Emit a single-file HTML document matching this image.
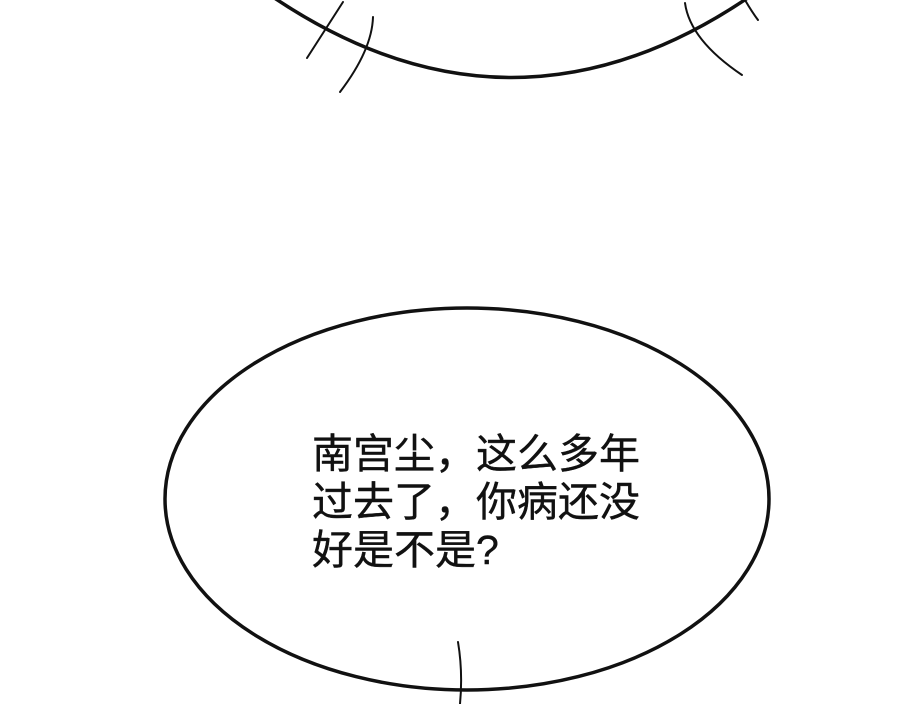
<!DOCTYPE html>
<html><head><meta charset="utf-8"><style>
html,body{margin:0;padding:0;background:#fff;width:900px;height:704px;overflow:hidden}
.t{position:absolute;left:312px;font-family:"Liberation Sans","Noto Sans CJK SC",sans-serif;font-size:41px;line-height:48px;color:#111;white-space:nowrap;-webkit-text-stroke:0.4px #111}
</style></head><body>
<svg width="900" height="704" style="position:absolute;left:0;top:0" fill="none" stroke="#111" stroke-linecap="round">
<path d="M270 -5 Q512 160 752 -5" stroke-width="3.5"/>
<path d="M307 58 Q325 30 343 2" stroke-width="2"/>
<path d="M340 92 Q372 50 373 17" stroke-width="2"/>
<path d="M685 3 Q690 40 742 75" stroke-width="2"/>
<path d="M745 0 Q752 12 758 20" stroke-width="2"/>
<ellipse cx="467" cy="499" rx="302" ry="191" stroke-width="3.5"/>
<path d="M458 642 Q463 672 460 704" stroke-width="2"/>
</svg>
<div class="t" style="top:430px">南宫尘，这么多年<br>过去了，你病还没<br>好是不是?</div>
</body></html>
